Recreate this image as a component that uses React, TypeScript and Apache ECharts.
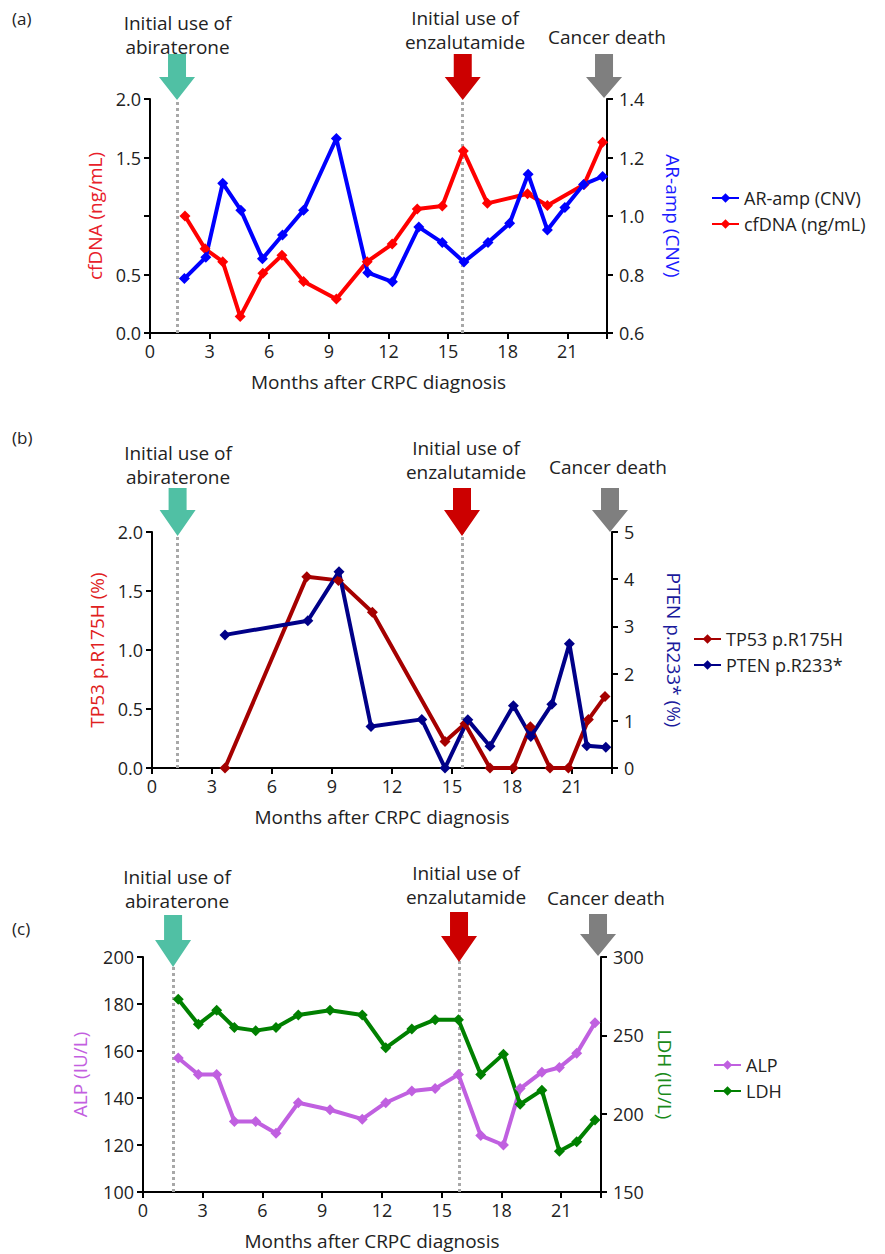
import React, { useEffect, useRef } from "react";
import * as echarts from "echarts";

// ---------- Data ----------
const X_TICKS_MAX = 23;

// Panel (a)
const CFDNA_X = [1.76, 2.77, 3.66, 4.54, 5.68, 6.64, 7.73, 9.38, 10.93, 12.19, 13.45, 14.71, 15.77, 16.98, 19.0, 20.0, 21.85, 22.78];
const CFDNA_Y = [1.0, 0.72, 0.61, 0.14, 0.51, 0.665, 0.44, 0.29, 0.61, 0.76, 1.06, 1.085, 1.556, 1.108, 1.19, 1.09, 1.27, 1.63];
const AR_X = [1.73, 2.81, 3.66, 4.57, 5.66, 6.67, 7.73, 9.38, 10.96, 12.2, 13.53, 14.71, 15.8, 17.01, 18.1, 19.03, 20.0, 20.88, 21.82, 22.78];
const AR_Y = [0.786, 0.859, 1.112, 1.02, 0.854, 0.935, 1.02, 1.265, 0.806, 0.775, 0.962, 0.909, 0.843, 0.909, 0.975, 1.143, 0.952, 1.029, 1.108, 1.135];

// Panel (b)
const TP53_X = [3.65, 7.74, 9.32, 11.02, 14.65, 15.65, 16.9, 18.07, 18.92, 19.9, 20.82, 21.82, 22.65];
const TP53_Y = [0, 1.62, 1.59, 1.32, 0.225, 0.375, 0, 0, 0.35, 0, 0, 0.41, 0.605];
const PTEN_X = [3.65, 7.79, 9.35, 10.95, 13.49, 14.65, 15.79, 16.9, 18.07, 18.94, 19.99, 20.87, 21.74, 22.69];
const PTEN_Y = [2.82, 3.12, 4.16, 0.88, 1.03, 0, 1.02, 0.46, 1.32, 0.67, 1.35, 2.63, 0.47, 0.44];

// Panel (c)
const LAB_X = [1.77, 2.78, 3.7, 4.59, 5.66, 6.68, 7.8, 9.39, 11.01, 12.19, 13.5, 14.67, 15.84, 16.96, 18.1, 18.94, 20.03, 20.91, 21.78, 22.7];
const ALP_Y = [157, 150, 150, 130, 130, 125, 138, 135, 131, 138, 143, 144, 150, 124, 120, 144, 151, 153, 159, 172];
const LDH_Y = [273, 257, 266, 255, 253, 255, 263, 266, 263, 242, 254, 260, 260, 225, 238, 206, 215, 176, 182, 196];

// Event months per panel: abiraterone, enzalutamide, death
const EVENTS_A = [1.36, 15.74, 22.85];
const EVENTS_B = [1.28, 15.5, 22.9];
const EVENTS_C = [1.51, 15.87, 22.85];

const LEFT_TICKS_A = [0, 0.5, 1.0, 1.5, 2.0];
const X_LABEL = "Months after CRPC diagnosis";

// ---------- Layout ----------
const GRIDS = [
  { left: 150, top: 99, width: 457, height: 234 },
  { left: 152, top: 532, width: 460, height: 236 },
  { left: 143, top: 957, width: 458, height: 235 },
];

const FONT = "'Open Sans', 'Noto Sans', sans-serif";
const TXT = "#222";
const GREEN_ARROW = "#50c0a4";
const RED_ARROW = "#cc0000";
const GREY_ARROW = "#7f7f7f";

const zip = (xs: number[], ys: number[]) => xs.map((x, i) => [x, ys[i]]);

function xAxis(gridIndex: number) {
  return {
    type: "value",
    gridIndex,
    min: 0,
    max: X_TICKS_MAX,
    interval: 3,
    name: X_LABEL,
    nameLocation: "middle",
    nameGap: 39,
    nameTextStyle: { fontSize: 19, color: TXT, fontFamily: FONT },
    axisLine: { show: true, lineStyle: { color: "#000", width: 2 } },
    axisTick: { show: true, length: 6, lineStyle: { color: "#000", width: 2 } },
    splitLine: { show: false },
    axisLabel: {
      fontSize: 18,
      color: TXT,
      fontFamily: FONT,
      margin: 9,
      formatter: (v: number) => (v % 3 === 0 ? String(v) : ""),
    },
  };
}

function yAxis(
  gridIndex: number,
  position: "left" | "right",
  min: number,
  max: number,
  interval: number,
  name: string,
  nameColor: string,
  formatter: (v: number) => string,
  nameGap: number
) {
  return {
    type: "value",
    gridIndex,
    position,
    min,
    max,
    interval,
    name,
    nameLocation: "middle",
    nameGap,
    nameRotate: position === "left" ? 90 : -90,
    nameTextStyle: { fontSize: 19, color: nameColor, fontFamily: FONT },
    axisLine: { show: true, onZero: false, lineStyle: { color: "#000", width: 2 } },
    axisTick: { show: true, length: 6, lineStyle: { color: "#000", width: 2 } },
    splitLine: { show: false },
    axisLabel: {
      fontSize: 18,
      color: TXT,
      fontFamily: FONT,
      margin: position === "left" ? 9 : 12,
      formatter,
    },
  };
}

function lineSeries(name: string, data: number[][], color: string, xi: number, yi: number, events?: number[]) {
  const s: any = {
    type: "line",
    name,
    data,
    xAxisIndex: xi,
    yAxisIndex: yi,
    symbol: "diamond",
    symbolSize: 11,
    showSymbol: true,
    lineStyle: { width: 4, color },
    itemStyle: { color },
    z: 3,
  };
  if (events) {
    s.markLine = {
      silent: true,
      symbol: ["none", "none"],
      label: { show: false },
      lineStyle: { type: [3, 3], color: "#a8a8a8", width: 3 },
      data: [{ xAxis: events[0] }, { xAxis: events[1] }],
      z: 1,
    };
  }
  return s;
}

function arrow(cx: number, top: number, headStart: number, tip: number, color: string) {
  const sw = 9;
  const hw = 18;
  return {
    type: "polygon",
    shape: {
      points: [
        [cx - sw, top],
        [cx + sw, top],
        [cx + sw, headStart],
        [cx + hw, headStart],
        [cx, tip],
        [cx - hw, headStart],
        [cx - sw, headStart],
      ],
    },
    style: { fill: color },
    z: 10,
  };
}

// centerY = vertical centre of the whole (possibly multi-line) block
function text(x: number, y: number, t: string, size = 19) {
  return {
    type: "text",
    x,
    y,
    style: {
      text: t,
      fontSize: size,
      lineHeight: 24,
      fontFamily: FONT,
      fill: TXT,
      align: "center",
      verticalAlign: "middle",
    },
    z: 10,
  };
}

function monthX(g: number, m: number) {
  return GRIDS[g].left + (m / X_TICKS_MAX) * GRIDS[g].width;
}

export default function App() {
  const ref = useRef<HTMLDivElement>(null);
  useEffect(() => {
    if (!ref.current) return;
    const chart = echarts.init(ref.current, undefined, { renderer: "svg" });

    const graphics: any[] = [
      // panel labels
      { type: "text", x: 12, y: 18, style: { text: "(a)", fontSize: 17, fontFamily: FONT, fill: TXT, verticalAlign: "middle" } },
      { type: "text", x: 12, y: 437, style: { text: "(b)", fontSize: 17, fontFamily: FONT, fill: TXT, verticalAlign: "middle" } },
      { type: "text", x: 12, y: 928, style: { text: "(c)", fontSize: 17, fontFamily: FONT, fill: TXT, verticalAlign: "middle" } },
      // panel a
      text(177.5, 34.5, "Initial use of\nabiraterone"),
      text(465, 30, "Initial use of\nenzalutamide"),
      text(607, 37, "Cancer death"),
      arrow(monthX(0, EVENTS_A[0]), 54, 77, 100, GREEN_ARROW),
      arrow(monthX(0, EVENTS_A[1]), 54, 77, 100, RED_ARROW),
      arrow(monthX(0, EVENTS_A[2]), 54, 77, 98, GREY_ARROW),
      // panel b
      text(178, 464.5, "Initial use of\nabiraterone"),
      text(466, 460, "Initial use of\nenzalutamide"),
      text(608, 467, "Cancer death"),
      arrow(monthX(1, EVENTS_B[0]), 488, 510, 536, GREEN_ARROW),
      arrow(monthX(1, EVENTS_B[1]), 488, 510, 536, RED_ARROW),
      arrow(monthX(1, EVENTS_B[2]), 488, 510, 532, GREY_ARROW),
      // panel c
      text(177, 888.5, "Initial use of\nabiraterone"),
      text(466, 884.5, "Initial use of\nenzalutamide"),
      text(606, 898, "Cancer death"),
      arrow(monthX(2, EVENTS_C[0]), 915, 940, 967, GREEN_ARROW),
      arrow(monthX(2, EVENTS_C[1]), 912, 936, 962, RED_ARROW),
      arrow(monthX(2, EVENTS_C[2]), 914, 934, 956, GREY_ARROW),
    ];

    const legendBase = {
      orient: "vertical",
      itemWidth: 27,
      itemHeight: 12,
      itemGap: 6,
      textStyle: { fontSize: 18, lineHeight: 20, color: TXT, fontFamily: FONT },
    };

    chart.setOption({
      animation: false,
      backgroundColor: "#fff",
      grid: GRIDS.map((g) => ({ ...g, containLabel: false })),
      xAxis: [xAxis(0), xAxis(1), xAxis(2)],
      yAxis: [
        yAxis(0, "left", 0, 2, 0.5, "cfDNA (ng/mL)", "#e8202a",
          (v) => (LEFT_TICKS_A.includes(v) && v !== 1 ? v.toFixed(1) : ""), 44),
        yAxis(0, "right", 0.6, 1.4, 0.2, "AR-amp (CNV)", "#1a1aff", (v) => v.toFixed(1), 56),
        yAxis(1, "left", 0, 2, 0.5, "TP53 p.R175H (%)", "#e02020", (v) => v.toFixed(1), 44),
        yAxis(1, "right", 0, 5, 1, "PTEN p.R233* (%)", "#1a1a9c", (v) => String(v), 52),
        yAxis(2, "left", 100, 200, 20, "ALP (IU/L)", "#c35fe0", (v) => String(v), 54),
        yAxis(2, "right", 150, 300, 50, "LDH (IU/L)", "#1a8a1a", (v) => String(v), 54),
      ],
      legend: [
        { ...legendBase, left: 706, top: 183, data: ["AR-amp (CNV)", "cfDNA (ng/mL)"] },
        { ...legendBase, left: 688, top: 624, data: ["TP53 p.R175H", "PTEN p.R233*"] },
        { ...legendBase, left: 708, top: 1050, data: ["ALP", "LDH"] },
      ],
      series: [
        lineSeries("cfDNA (ng/mL)", zip(CFDNA_X, CFDNA_Y), "#ff0000", 0, 0, EVENTS_A),
        lineSeries("AR-amp (CNV)", zip(AR_X, AR_Y), "#0000ff", 0, 1),
        lineSeries("TP53 p.R175H", zip(TP53_X, TP53_Y), "#a50000", 1, 2, EVENTS_B),
        lineSeries("PTEN p.R233*", zip(PTEN_X, PTEN_Y), "#000088", 1, 3),
        lineSeries("ALP", zip(LAB_X, ALP_Y), "#c060e0", 2, 4, EVENTS_C),
        lineSeries("LDH", zip(LAB_X, LDH_Y), "#008000", 2, 5),
      ],
      graphic: graphics,
    });
    return () => chart.dispose();
  }, []);
  return (
    <div
      ref={ref}
      style={{ position: "absolute", left: 0, top: 0, width: 885, height: 1254 }}
    />
  );
}
